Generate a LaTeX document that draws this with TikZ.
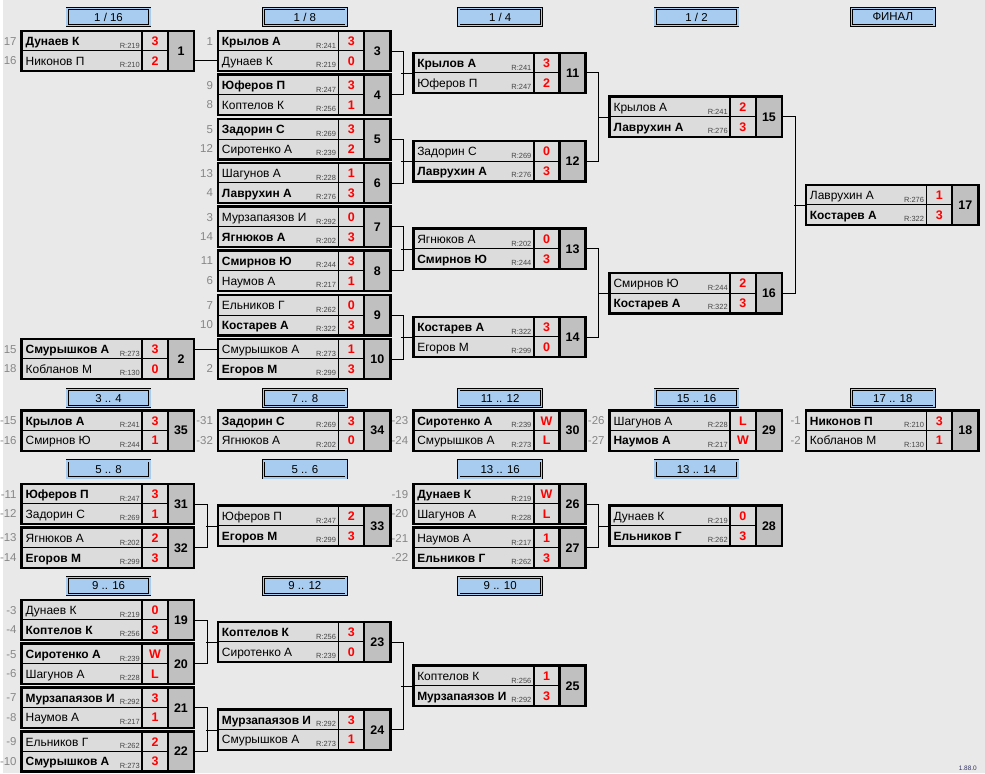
\documentclass[tikz,border=0pt]{standalone}
\usepackage{fontspec}
\setmainfont{Liberation Sans}
\usepackage{tikz}
\usetikzlibrary{positioning}
\definecolor{bggray}{RGB}{233,233,233}
\definecolor{cellgray}{RGB}{220,220,220}
\definecolor{numgray}{RGB}{192,192,192}
\definecolor{hdrblue}{RGB}{168,204,240}
\definecolor{seedgray}{RGB}{135,135,135}
\definecolor{rtgray}{RGB}{70,70,70}
\definecolor{scorered}{RGB}{255,0,0}
\definecolor{verblue}{RGB}{50,50,100}
\tikzstyle{ncell}=[draw=black, line width=0.8pt, fill=cellgray, minimum width=120pt, minimum height=20pt, inner xsep=2pt, inner ysep=0pt, text height=12pt, text depth=3pt, font=\fontsize{12}{14}\selectfont]
\tikzstyle{scell}=[draw=black, line width=0.8pt, fill=cellgray, minimum width=25pt, minimum height=20pt, inner sep=0pt, text height=12pt, text depth=3pt, text=scorered, font=\fontsize{12.5}{14}\selectfont\bfseries]
\tikzstyle{numcell}=[anchor=north west, fill=numgray, minimum width=26pt, minimum height=40pt, inner sep=0pt, font=\fontsize{12.5}{14}\selectfont\bfseries]
\tikzstyle{boxline}=[draw=black, line width=2.6pt]
\tikzstyle{seed}=[anchor=east, inner sep=0pt, text=seedgray, font=\fontsize{11.5}{13}\selectfont]
\tikzstyle{hdr}=[draw=black, line width=0.8pt, double=hdrblue, double distance=1.6pt, fill=hdrblue, minimum width=83pt, minimum height=17pt, inner sep=0pt, font=\fontsize{11.5}{13}\selectfont]
\tikzstyle{link}=[draw=black, line width=0.9pt]
\newcommand{\rtg}[1]{\raisebox{-2.5pt}{\fontsize{7.5}{8}\selectfont\color{rtgray}R:#1}}
\newcommand{\game}[4]{\node[numcell] (m#1) at (#2+145,#3) {#4};}
\newcommand{\pla}[5]{%
  \node[scell, anchor=north east] (m#1-as) at (m#1.north west) {#5};
  \node[ncell, anchor=north east] (m#1-a) at (m#1-as.north west) {\hbox to 116pt{\hspace{1.5pt}#3\hfill\rtg{#4}}};
  \node[seed] (m#1-ad) at ([xshift=-5pt]m#1-a.west) {#2};}
\newcommand{\plb}[5]{%
  \node[scell, anchor=south east] (m#1-bs) at (m#1.south west) {#5};
  \node[ncell, anchor=south east] (m#1-b) at (m#1-bs.south west) {\hbox to 116pt{\hspace{1.5pt}#3\hfill\rtg{#4}}};
  \node[seed] (m#1-bd) at ([xshift=-5pt]m#1-b.west) {#2};
  \draw[boxline] (m#1-a.north west) rectangle (m#1.south east);
  \draw[boxline] (m#1.north west) -- (m#1.south west);}
\begin{document}
\begin{tikzpicture}[x=1pt,y=-1pt]
\fill[bggray] (0,0) rectangle (985,776);
\node[hdr] (h16) at (105.5,17) {1 / 16};
\node[hdr] (h8) at (302.5,17) {1 / 8};
\node[hdr] (h4) at (498.5,17) {1 / 4};
\node[hdr] (h2) at (695.5,17) {1 / 2};
\node[hdr] (hfin) at (892.5,17) {ФИНАЛ};
\node[hdr] (h34) at (105.5,399.5) {3 .. 4};
\node[hdr] (h78) at (302.5,399.5) {7 .. 8};
\node[hdr] (h1112) at (498.5,399.5) {11 .. 12};
\node[hdr] (h1516) at (695.5,399.5) {15 .. 16};
\node[hdr] (h1718) at (892.5,399.5) {17 .. 18};
\node[hdr] (h58) at (105.5,471) {5 .. 8};
\node[hdr] (h56) at (302.5,471) {5 .. 6};
\node[hdr] (h1316) at (498.5,471) {13 .. 16};
\node[hdr] (h1314) at (695.5,471) {13 .. 14};
\node[hdr] (h916) at (105.5,588) {9 .. 16};
\node[hdr] (h912) at (302.5,588) {9 .. 12};
\node[hdr] (h910) at (498.5,588) {9 .. 10};
\game{1}{20}{31}{1}
\pla{1}{17}{\textbf{Дунаев К}}{219}{3}
\plb{1}{16}{Никонов П}{210}{2}
\game{2}{20}{340}{2}
\pla{2}{15}{\textbf{Смурышков А}}{273}{3}
\plb{2}{18}{Кобланов М}{130}{0}
\game{3}{217}{31}{3}
\pla{3}{1}{\textbf{Крылов А}}{241}{3}
\plb{3}{}{Дунаев К}{219}{0}
\game{4}{217}{75}{4}
\pla{4}{9}{\textbf{Юферов П}}{247}{3}
\plb{4}{8}{Коптелов К}{256}{1}
\game{5}{217}{119.5}{5}
\pla{5}{5}{\textbf{Задорин С}}{269}{3}
\plb{5}{12}{Сиротенко А}{239}{2}
\game{6}{217}{163.5}{6}
\pla{6}{13}{Шагунов А}{228}{1}
\plb{6}{4}{\textbf{Лаврухин А}}{276}{3}
\game{7}{217}{207.5}{7}
\pla{7}{3}{Мурзапаязов И}{292}{0}
\plb{7}{14}{\textbf{Ягнюков А}}{202}{3}
\game{8}{217}{251.5}{8}
\pla{8}{11}{\textbf{Смирнов Ю}}{244}{3}
\plb{8}{6}{Наумов А}{217}{1}
\game{9}{217}{296}{9}
\pla{9}{7}{Ельников Г}{262}{0}
\plb{9}{10}{\textbf{Костарев А}}{322}{3}
\game{10}{217}{340}{10}
\pla{10}{}{Смурышков А}{273}{1}
\plb{10}{2}{\textbf{Егоров М}}{299}{3}
\game{11}{413}{53}{11}
\pla{11}{}{\textbf{Крылов А}}{241}{3}
\plb{11}{}{Юферов П}{247}{2}
\game{12}{413}{141.5}{12}
\pla{12}{}{Задорин С}{269}{0}
\plb{12}{}{\textbf{Лаврухин А}}{276}{3}
\game{13}{413}{229.5}{13}
\pla{13}{}{Ягнюков А}{202}{0}
\plb{13}{}{\textbf{Смирнов Ю}}{244}{3}
\game{14}{413}{318}{14}
\pla{14}{}{\textbf{Костарев А}}{322}{3}
\plb{14}{}{Егоров М}{299}{0}
\game{15}{610}{97}{15}
\pla{15}{}{Крылов А}{241}{2}
\plb{15}{}{\textbf{Лаврухин А}}{276}{3}
\game{16}{610}{274}{16}
\pla{16}{}{Смирнов Ю}{244}{2}
\plb{16}{}{\textbf{Костарев А}}{322}{3}
\game{17}{807}{185.5}{17}
\pla{17}{}{Лаврухин А}{276}{1}
\plb{17}{}{\textbf{Костарев А}}{322}{3}
\game{35}{20}{412}{35}
\pla{35}{-15}{\textbf{Крылов А}}{241}{3}
\plb{35}{-16}{Смирнов Ю}{244}{1}
\game{34}{217}{412}{34}
\pla{34}{-31}{\textbf{Задорин С}}{269}{3}
\plb{34}{-32}{Ягнюков А}{202}{0}
\game{30}{413}{412}{30}
\pla{30}{-23}{\textbf{Сиротенко А}}{239}{W}
\plb{30}{-24}{Смурышков А}{273}{L}
\game{29}{610}{412}{29}
\pla{29}{-26}{Шагунов А}{228}{L}
\plb{29}{-27}{\textbf{Наумов А}}{217}{W}
\game{18}{807}{412}{18}
\pla{18}{-1}{\textbf{Никонов П}}{210}{3}
\plb{18}{-2}{Кобланов М}{130}{1}
\game{31}{20}{485.5}{31}
\pla{31}{-11}{\textbf{Юферов П}}{247}{3}
\plb{31}{-12}{Задорин С}{269}{1}
\game{32}{20}{529.5}{32}
\pla{32}{-13}{Ягнюков А}{202}{2}
\plb{32}{-14}{\textbf{Егоров М}}{299}{3}
\game{33}{217}{507.5}{33}
\pla{33}{}{Юферов П}{247}{2}
\plb{33}{}{\textbf{Егоров М}}{299}{3}
\game{26}{413}{485.5}{26}
\pla{26}{-19}{\textbf{Дунаев К}}{219}{W}
\plb{26}{-20}{Шагунов А}{228}{L}
\game{27}{413}{529.5}{27}
\pla{27}{-21}{Наумов А}{217}{1}
\plb{27}{-22}{\textbf{Ельников Г}}{262}{3}
\game{28}{610}{507.5}{28}
\pla{28}{}{Дунаев К}{219}{0}
\plb{28}{}{\textbf{Ельников Г}}{262}{3}
\game{19}{20}{602}{19}
\pla{19}{-3}{Дунаев К}{219}{0}
\plb{19}{-4}{\textbf{Коптелов К}}{256}{3}
\game{20}{20}{646}{20}
\pla{20}{-5}{\textbf{Сиротенко А}}{239}{W}
\plb{20}{-6}{Шагунов А}{228}{L}
\game{21}{20}{690}{21}
\pla{21}{-7}{\textbf{Мурзапаязов И}}{292}{3}
\plb{21}{-8}{Наумов А}{217}{1}
\game{22}{20}{734}{22}
\pla{22}{-9}{Ельников Г}{262}{2}
\plb{22}{-10}{\textbf{Смурышков А}}{273}{3}
\game{23}{217}{624}{23}
\pla{23}{}{\textbf{Коптелов К}}{256}{3}
\plb{23}{}{Сиротенко А}{239}{0}
\game{24}{217}{712}{24}
\pla{24}{}{\textbf{Мурзапаязов И}}{292}{3}
\plb{24}{}{Смурышков А}{273}{1}
\game{25}{413}{668}{25}
\pla{25}{}{Коптелов К}{256}{1}
\plb{25}{}{\textbf{Мурзапаязов И}}{292}{3}
\draw[link] (m3-b.west -| m1.east) -- (m3-b.west);
\draw[link] (m10-a.west -| m2.east) -- (m10-a.west);
\foreach \p/\q/\r in {3/4/11,5/6/12,7/8/13,9/10/14,11/12/15,13/14/16,15/16/17,31/32/33,26/27/28,19/20/23,21/22/24,23/24/25}{
  \draw[link] (m\p.east) -- ++(13,0) |- (m\q.east);
  \draw[link] (m\r-a.south west) -- ++(-12,0);
}
\node[anchor=south east, inner sep=0pt, text=verblue, font=\fontsize{6.5}{7}\selectfont] (ver) at (977,773) {1.88.0};
\end{tikzpicture}
\end{document}
